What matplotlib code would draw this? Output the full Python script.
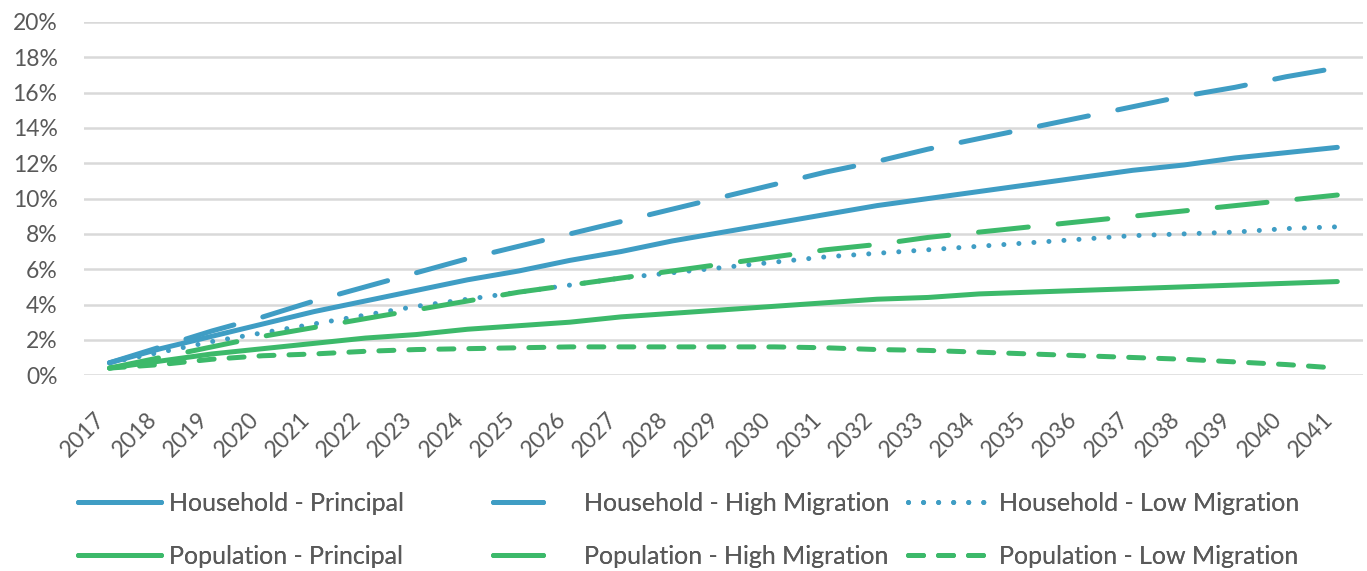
import numpy as np
import matplotlib.pyplot as plt
from matplotlib.ticker import PercentFormatter

years = [str(y) for y in range(2017, 2042)]

hh_principal = [0.7, 1.5, 2.2, 2.9, 3.6, 4.2, 4.8, 5.4, 5.9, 6.5, 7.0, 7.6, 8.1,
                8.6, 9.1, 9.6, 10.0, 10.4, 10.8, 11.2, 11.6, 11.9, 12.3, 12.6, 12.9]
hh_high = [0.7, 1.6, 2.5, 3.3, 4.2, 5.0, 5.8, 6.6, 7.3, 8.0, 8.7, 9.4, 10.1,
           10.8, 11.5, 12.1, 12.8, 13.4, 14.0, 14.6, 15.2, 15.8, 16.3, 16.9, 17.4]
hh_low = [0.7, 1.3, 1.9, 2.4, 2.9, 3.4, 3.9, 4.3, 4.7, 5.1, 5.5, 5.8, 6.1,
          6.4, 6.7, 6.9, 7.1, 7.3, 7.5, 7.7, 7.9, 8.0, 8.1, 8.3, 8.4]
pop_principal = [0.4, 0.8, 1.2, 1.5, 1.8, 2.1, 2.3, 2.6, 2.8, 3.0, 3.3, 3.5, 3.7,
                 3.9, 4.1, 4.3, 4.4, 4.6, 4.7, 4.8, 4.9, 5.0, 5.1, 5.2, 5.3]
pop_high = [0.4, 1.0, 1.6, 2.2, 2.7, 3.2, 3.7, 4.2, 4.7, 5.1, 5.5, 5.9, 6.3,
            6.7, 7.1, 7.4, 7.8, 8.1, 8.4, 8.7, 9.0, 9.3, 9.6, 9.9, 10.2]
pop_low = [0.4, 0.6, 0.9, 1.1, 1.2, 1.35, 1.45, 1.5, 1.55, 1.6, 1.6, 1.6, 1.6,
           1.6, 1.55, 1.45, 1.4, 1.3, 1.2, 1.1, 1.0, 0.9, 0.75, 0.6, 0.4]

blue = '#3f9dc4'
green = '#3cb96a'
grey = '#595959'

plt.rcParams['font.family'] = ['Lato', 'DejaVu Sans']

fig = plt.figure(figsize=(13.67, 5.71), dpi=100)
ax = fig.add_axes([0.0614, 0.343, 0.9356, 0.6185])

x = np.arange(len(years))
lw = 3.6
long_dash = (0, (10, 6))
series = [
    (hh_principal, blue, '-', 'Household - Principal'),
    (hh_high, blue, long_dash, 'Household - High Migration'),
    (hh_low, blue, (0, (0.01, 3.0)), 'Household - Low Migration'),
    (pop_principal, green, '-', 'Population - Principal'),
    (pop_high, green, long_dash, 'Population - High Migration'),
    (pop_low, green, (0, (3.0, 3.0)), 'Population - Low Migration'),
]
lines = []
for vals, col, ls, lab in series:
    ln, = ax.plot(x, np.array(vals) / 100, color=col, linestyle=ls, linewidth=lw,
                  label=lab, solid_capstyle='round', dash_capstyle='round')
    lines.append(ln)

ax.set_xlim(-0.5, len(years) - 0.5)
ax.set_ylim(0, 0.20)
ax.set_yticks(np.arange(0, 0.201, 0.02))
ax.yaxis.set_major_formatter(PercentFormatter(1.0, decimals=0))
ax.set_xticks(x)
ax.set_xticklabels(years, rotation=45, ha='right', va='top')
ax.tick_params(axis='both', length=0, labelsize=16.5, colors=grey)
ax.tick_params(axis='x', pad=24)
ax.tick_params(axis='y', pad=19)
ax.grid(axis='y', color='#d9d9d9', linewidth=1.8)
ax.set_axisbelow(True)
for s in ax.spines.values():
    s.set_visible(False)

# legend: three columns at fixed positions, household row on top
col_x = [78, 493, 908]
for i, cx in enumerate(col_x):
    leg = fig.legend([lines[i], lines[i + 3]],
                     [series[i][3], series[i + 3][3]],
                     loc='upper left', bbox_to_anchor=(cx / 1367, 1 - 492 / 571),
                     frameon=False, fontsize=18, labelcolor=grey,
                     borderpad=0, borderaxespad=0,
                     handlelength=3.3, handletextpad=0.35, labelspacing=1.2)
    if i == 1:
        # only one long dash shown in these keys
        for h in leg.get_lines():
            h.set_linestyle((0, (10, 20)))
    fig.add_artist(leg)

fig.savefig('out.png', dpi=100)
